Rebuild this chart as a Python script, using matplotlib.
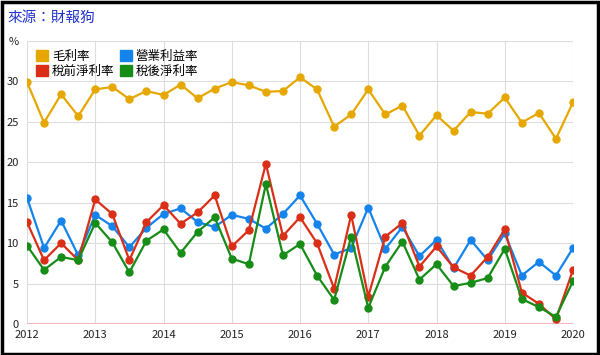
import matplotlib
matplotlib.use('Agg')
import matplotlib.pyplot as plt
from matplotlib.patches import Patch, Rectangle
import numpy as np

plt.rcParams['font.family'] = ['Noto Sans CJK TC', 'DejaVu Sans']

# quarterly points 2012Q1 .. 2020Q1
years = ["2012", "2013", "2014", "2015", "2016", "2017", "2018", "2019", "2020"]
gross = [29.9, 24.9, 28.4, 25.7, 29.0, 29.3, 27.8, 28.8, 28.3, 29.6, 27.9,
         29.1, 29.9, 29.5, 28.7, 28.8, 30.5, 29.0, 24.4, 25.9, 29.0, 25.9,
         27.0, 23.3, 25.8, 23.9, 26.2, 26.0, 28.0, 24.9, 26.1, 22.9, 27.4]
operating = [15.6, 9.4, 12.8, 8.5, 13.5, 12.1, 9.5, 11.9, 13.6, 14.3, 12.6,
             12.0, 13.5, 13.0, 11.8, 13.6, 15.9, 12.4, 8.6, 9.4, 14.4, 9.3,
             12.0, 8.4, 10.4, 6.9, 10.4, 7.9, 11.2, 6.0, 7.7, 6.0, 9.4]
pretax = [12.6, 7.9, 10.0, 7.9, 15.4, 13.6, 7.9, 12.6, 14.7, 12.4, 13.8,
          15.9, 9.6, 11.6, 19.8, 10.9, 13.2, 10.0, 4.4, 13.5, 3.4, 10.8,
          12.5, 7.1, 9.6, 7.0, 6.0, 8.3, 11.7, 3.9, 2.5, 0.6, 6.7]
aftertax = [9.7, 6.7, 8.3, 7.9, 12.5, 10.1, 6.4, 10.3, 11.7, 8.8, 11.4,
            13.2, 8.1, 7.4, 17.3, 8.5, 9.9, 6.0, 3.0, 10.8, 2.0, 7.1,
            10.2, 5.5, 7.4, 4.7, 5.1, 5.7, 9.3, 3.1, 2.1, 0.9, 5.3]

x = 2012 + np.arange(len(gross)) * 0.25

fig = plt.figure(figsize=(6, 3.55), dpi=100)
ax = fig.add_axes([0.045, 0.087, 0.91, 0.798])

series = [("毛利率", gross, "#E6A800"),
          ("營業利益率", operating, "#1484EC"),
          ("稅前淨利率", pretax, "#DA2E17"),
          ("稅後淨利率", aftertax, "#178C17")]
for name, vals, c in series:
    ax.plot(x, vals, color=c, lw=1.6, marker="o", ms=5, zorder=3)

ax.axhline(0, color="#F4B4C0", lw=1.5, zorder=2)
ax.set_xlim(2012, 2020)
ax.set_ylim(0, 35)
ax.set_xticks(range(2012, 2021))
ax.set_xticklabels(years)
ax.set_yticks([0, 5, 10, 15, 20, 25, 30, 35])
ax.set_yticklabels(["0", "5", "10", "15", "20", "25", "30", "%"])
ax.grid(color="#DDDDDD", lw=0.8, zorder=0)
for s in ax.spines.values():
    s.set_visible(False)
ax.tick_params(length=0, labelsize=8, colors="#222222", pad=4)
ax.tick_params(axis="y", pad=6)

order = [0, 2, 1, 3]
handles = [Patch(facecolor=series[i][2], edgecolor=series[i][2]) for i in order]
labels = [series[i][0] for i in order]
ax.legend(handles, labels, ncol=2, loc="upper left", bbox_to_anchor=(0.0, 1.0),
          frameon=False, fontsize=9, handlelength=1.0, handleheight=1.0,
          handletextpad=0.3, columnspacing=0.4, labelspacing=0.15,
          borderaxespad=0.3)

fig.text(0.013, 0.95, "來源：財報狗", color="#2233CC", fontsize=10.5, va="center")
fig.patches.append(Rectangle((0.003, 0.004), 0.994, 0.99, transform=fig.transFigure,
                             fill=False, edgecolor="black", lw=2.5))

fig.savefig("out.png", dpi=100)
